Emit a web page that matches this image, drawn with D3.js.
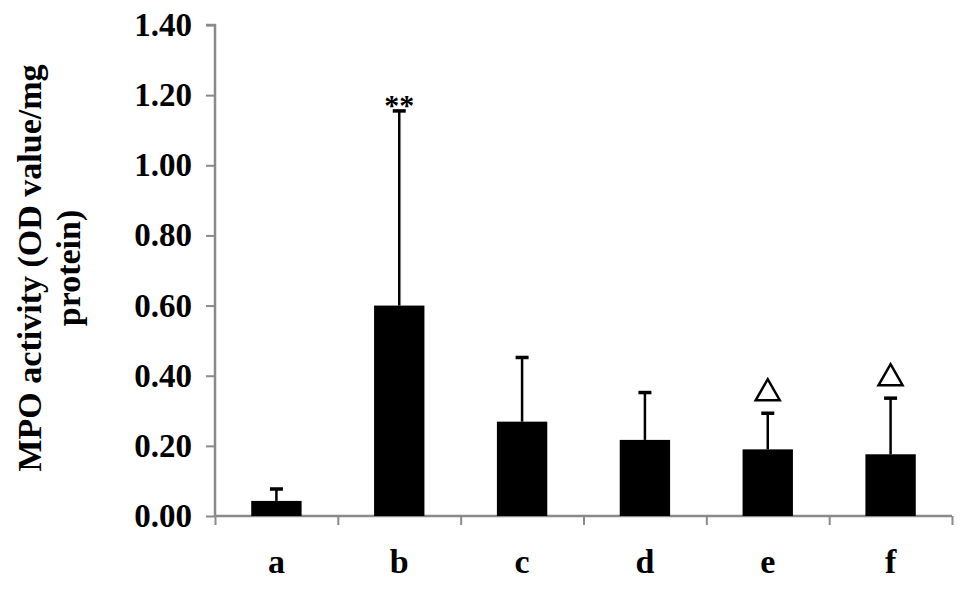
<!DOCTYPE html>
<html>
<head>
<meta charset="utf-8">
<script src="https://cdn.jsdelivr.net/npm/d3@7"></script>
<style>
  body { margin: 0; background: #fff; }
  svg text { font-family: "Liberation Serif", "Times New Roman", serif; font-weight: bold; }
</style>
</head>
<body>
<svg id="chart" width="969" height="589"></svg>
<script>
var groups = ["a", "b", "c", "d", "e", "f"];
var means = [0.043, 0.600, 0.269, 0.217, 0.190, 0.176];
var sds = [0.034, 0.555, 0.183, 0.135, 0.103, 0.160];
var marks = ["", "**", "", "", "tri", "tri"];
var yTicks = [0, 0.2, 0.4, 0.6, 0.8, 1.0, 1.2, 1.4];

var svg = d3.select("#chart"),
    plotLeft = 215, plotTop = 25, plotRight = 952, plotBottom = 516;

var xScale = d3.scaleBand().domain(groups).range([plotLeft, plotRight]).paddingInner(0.59).paddingOuter(0.295);
var xEdge = d3.scaleLinear().domain([0, groups.length]).range([plotLeft, plotRight]);
var yScale = d3.scaleLinear().domain([0, 1.4]).range([plotBottom, plotTop]);

// y axis
var yAxis = svg.append("g")
    .attr("transform", "translate(" + plotLeft + ",0)")
    .call(d3.axisLeft(yScale).tickValues(yTicks).tickSize(9).tickPadding(14)
        .tickFormat(d3.format(".2f")));
yAxis.selectAll("line").attr("stroke", "#8a8a8a").attr("stroke-width", 2);
yAxis.select(".domain").attr("stroke", "#8a8a8a").attr("stroke-width", 2.5)
    .attr("d", "M0," + plotBottom + "V" + plotTop + "H-9");
yAxis.selectAll("text").attr("font-size", 33).attr("fill", "#000")
    .attr("font-family", "Liberation Serif");

// x axis (ticks at category boundaries)
var xAxis = svg.append("g")
    .attr("transform", "translate(0," + plotBottom + ")")
    .call(d3.axisBottom(xEdge).tickValues(d3.range(groups.length + 1)).tickSize(9).tickFormat(""));
xAxis.selectAll("line").attr("stroke", "#8a8a8a").attr("stroke-width", 2);
xAxis.select(".domain").attr("stroke", "#8a8a8a").attr("stroke-width", 2.5)
    .attr("d", "M" + plotLeft + ",0H" + plotRight);

svg.selectAll(".xlab").data(groups).enter().append("text")
    .attr("class", "xlab")
    .attr("x", function(d) { return xScale(d) + xScale.bandwidth() / 2; })
    .attr("y", 573)
    .attr("text-anchor", "middle")
    .attr("font-size", 34)
    .text(function(d) { return d; });

// error bars
var eg = svg.append("g");
groups.forEach(function(g, i) {
    var cx = xScale(g) + xScale.bandwidth() / 2;
    eg.append("line")
        .attr("x1", cx).attr("x2", cx)
        .attr("y1", yScale(means[i])).attr("y2", yScale(means[i] + sds[i]))
        .attr("stroke", "#000").attr("stroke-width", 2.5);
    eg.append("line")
        .attr("x1", cx - 6.5).attr("x2", cx + 6.5)
        .attr("y1", yScale(means[i] + sds[i])).attr("y2", yScale(means[i] + sds[i]))
        .attr("stroke", "#000").attr("stroke-width", 3.5);
});

// bars
svg.selectAll(".bar").data(groups).enter().append("rect")
    .attr("class", "bar")
    .attr("x", function(d) { return xScale(d); })
    .attr("y", function(d, i) { return yScale(means[i]); })
    .attr("width", xScale.bandwidth())
    .attr("height", function(d, i) { return plotBottom - yScale(means[i]); })
    .attr("fill", "#000");

// significance marks
groups.forEach(function(g, i) {
    var cx = xScale(g) + xScale.bandwidth() / 2;
    var capY = yScale(means[i] + sds[i]);
    if (marks[i] == "**") {
        svg.append("text").attr("x", cx).attr("y", capY + 4)
            .attr("text-anchor", "middle").attr("font-size", 30)
            .attr("font-family", "DejaVu Sans")
            .text("**");
    } else if (marks[i] == "tri") {
        var base = capY - 13, h = 21, w = 24;
        svg.append("path")
            .attr("d", "M" + (cx - w / 2) + "," + base + "L" + cx + "," + (base - h) + "L" + (cx + w / 2) + "," + base + "Z")
            .attr("fill", "none").attr("stroke", "#000").attr("stroke-width", 2.5);
    }
});

// y title
var title = svg.append("text")
    .attr("transform", "translate(41,268) rotate(-90)")
    .attr("text-anchor", "middle")
    .attr("font-size", 34);
title.append("tspan").attr("x", 0).attr("dy", 0).text("MPO activity (OD value/mg");
title.append("tspan").attr("x", 0).attr("dy", 39).text("protein)");
</script>
</body>
</html>
